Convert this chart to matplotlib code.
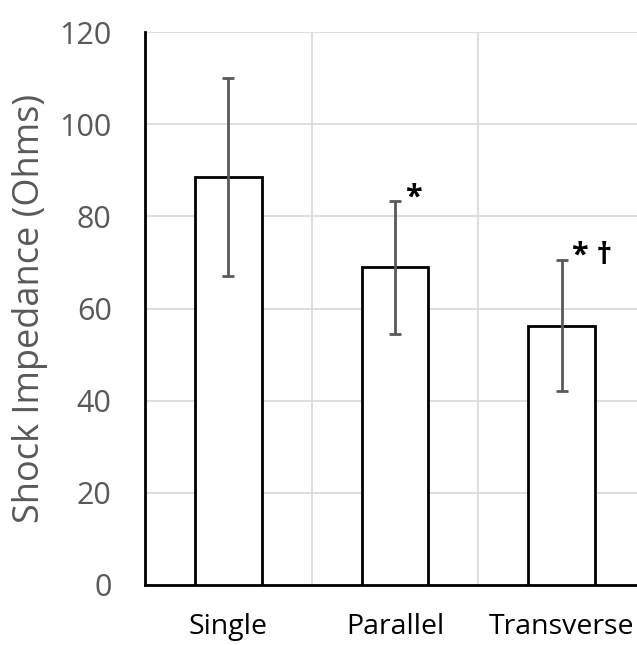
import matplotlib.pyplot as plt

categories = ['Single', 'Parallel', 'Transverse']
means = [88.6, 68.9, 56.3]
errors = [21.5, 14.5, 14.3]
marks = ['', '*', '* \u2020']

plt.rcParams['font.family'] = ['Open Sans', 'DejaVu Sans']

fig = plt.figure(figsize=(6.37, 6.45), dpi=100)
# axes runs a little past the right edge, as in the original
ax = fig.add_axes([145 / 637, 60 / 645, 500 / 637, 553 / 645])

x = range(len(categories))
ax.bar(x, means, width=0.4, color='white', edgecolor='black', linewidth=2, zorder=3)
ax.errorbar(x, means, yerr=errors, fmt='none', ecolor='#595959', elinewidth=2,
            capsize=4, capthick=2, zorder=4)

for i, m in enumerate(marks):
    if m:
        ax.text(i + 0.06, means[i] + errors[i] - 2.5, m, fontsize=22, fontweight='bold',
                ha='left', va='bottom', color='black', zorder=5)

ax.set_xlim(-0.5, 2.5)
ax.set_ylim(0, 120)
ax.set_yticks(range(0, 121, 20))
ax.set_xticks([0.5, 1.5], minor=True)
ax.set_xticks(list(x))
ax.set_xticklabels(categories)
ax.grid(True, which='major', axis='y', color='#d9d9d9', linewidth=1.2, zorder=0)
ax.grid(True, which='minor', axis='x', color='#d9d9d9', linewidth=1.2, zorder=0)
ax.tick_params(which='both', length=0)
ax.tick_params(axis='y', labelsize=22, labelcolor='#595959', pad=24)
ax.tick_params(axis='x', labelsize=20.5, labelcolor='black', pad=20)
ax.set_ylabel('Shock Impedance (Ohms)', fontsize=26, color='#595959', labelpad=8)

for s in ['top', 'right']:
    ax.spines[s].set_visible(False)
ax.spines['left'].set_linewidth(2)
ax.spines['bottom'].set_linewidth(2)

fig.savefig('out.png', dpi=100)
